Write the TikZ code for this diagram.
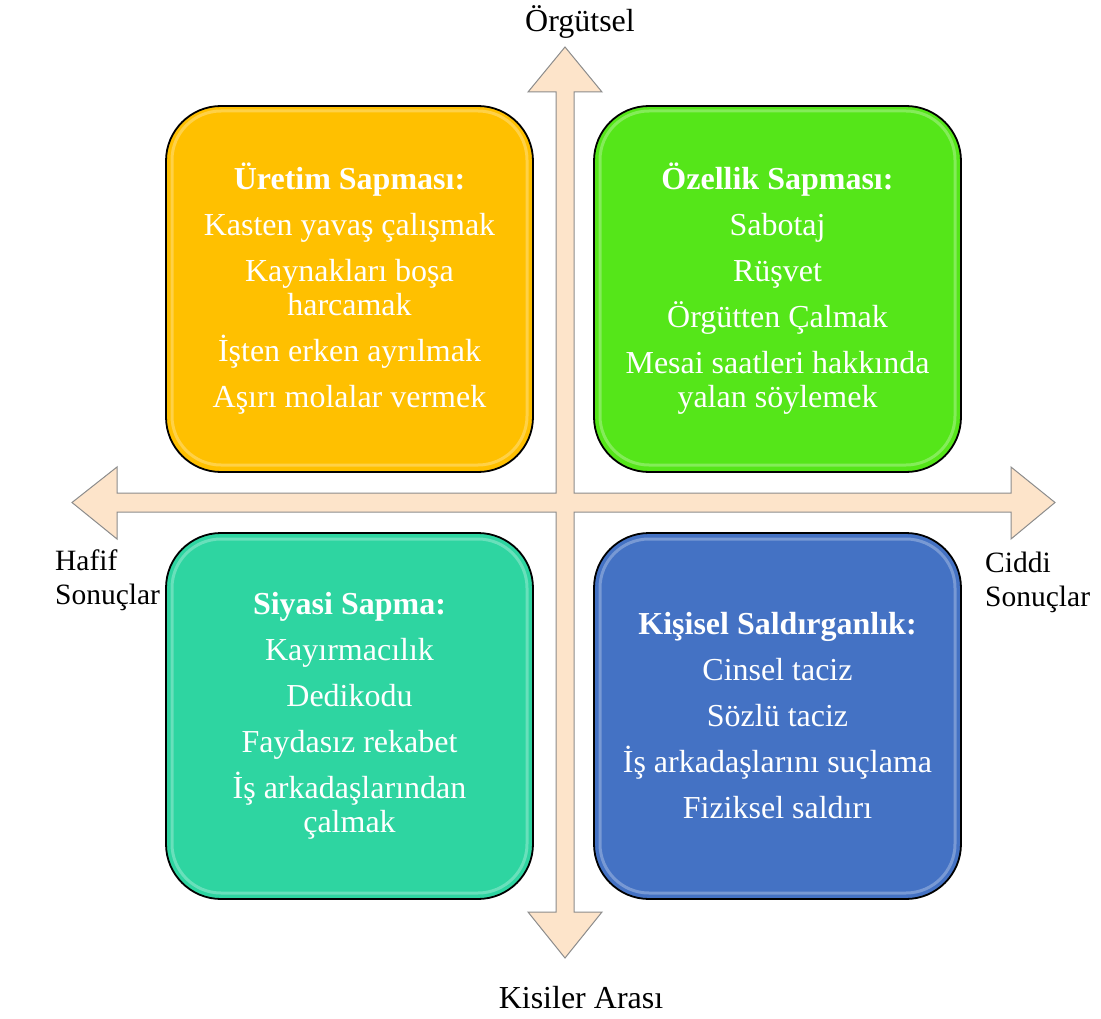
\documentclass[tikz,border=0pt]{standalone}
\usepackage{fontspec}
\setmainfont{Liberation Serif}
\definecolor{cyellow}{HTML}{FFC000}
\definecolor{cgreen}{HTML}{55E619}
\definecolor{cteal}{HTML}{2ED5A1}
\definecolor{cblue}{HTML}{4472C4}
\definecolor{peach}{HTML}{FDE4CA}
\definecolor{axisgray}{HTML}{8C8C8C}
\begin{document}
\begin{tikzpicture}[x=1pt,y=-1pt,
  quad/.style={draw=black, line width=1.8pt, rounded corners=55pt,
    minimum width=367pt, minimum height=366pt, inner sep=0pt,
    text=white, align=center, font=\fontsize{32}{34}\selectfont},
  gloss/.style={draw=white, opacity=0.28, line width=3pt, rounded corners=49pt},
  axisshape/.style={fill=peach, draw=axisgray, line width=1pt, line join=miter},
  lbl/.style={inner sep=0pt, font=\fontsize{32}{34}\selectfont},
  sidelbl/.style={inner sep=0pt, font=\fontsize{29.5}{34}\selectfont}]
\useasboundingbox (0,0) rectangle (1101,1019);
% axes (union of two double arrows)
\draw[axisshape] (565,47) -- (602,92) -- (574,92) -- (574,493) -- (1011,493) -- (1011,467)
  -- (1055,502.5) -- (1011,539) -- (1011,512) -- (574,512) -- (574,912) -- (602,912)
  -- (565,958) -- (528,912) -- (556,912) -- (556,512) -- (117,512) -- (117,539)
  -- (72,502.5) -- (117,467) -- (117,493) -- (556,493) -- (556,92) -- (528,92) -- cycle;
% quadrants
\node[quad, fill=cyellow] (uretim) at (349.5,289)
  {\textbf{Üretim Sapması:}\\[12pt] Kasten yavaş çalışmak\\[12pt] Kaynakları boşa\\ harcamak\\[12pt] İşten erken ayrılmak\\[12pt] Aşırı molalar vermek};
\node[quad, fill=cgreen] (ozellik) at (777.5,289)
  {\textbf{Özellik Sapması:}\\[12pt] Sabotaj\\[12pt] Rüşvet\\[12pt] Örgütten Çalmak\\[12pt] Mesai saatleri hakkında\\ yalan söylemek};
\node[quad, fill=cteal] (siyasi) at (349.5,716)
  {\textbf{Siyasi Sapma:}\\[12pt] Kayırmacılık\\[12pt] Dedikodu\\[12pt] Faydasız rekabet\\[12pt] İş arkadaşlarından\\ çalmak};
\node[quad, fill=cblue] (kisisel) at (777.5,716)
  {\textbf{Kişisel Saldırganlık:}\\[12pt] Cinsel taciz\\[12pt] Sözlü taciz\\[12pt] İş arkadaşlarını suçlama\\[12pt] Fiziksel saldırı};
% gloss highlights
\draw[gloss] (172,111) rectangle (527,465);
\draw[gloss] (600,111) rectangle (955,465);
\draw[gloss] (172,539) rectangle (527,893);
\draw[gloss] (600,539) rectangle (955,893);
% axis labels
\node[lbl, anchor=base] (orgutsel) at (580,32) {Örgütsel};
\node[lbl, anchor=base] (kisiler) at (581,1008) {Kisiler Arası};
\node[sidelbl, anchor=base west] (hafif) at (55,570)
  {\vtop{\baselineskip=34pt \hbox{Hafif}\hbox{Sonuçlar}}};
\node[sidelbl, anchor=base west] (ciddi) at (985,572)
  {\vtop{\baselineskip=34pt \hbox{Ciddi}\hbox{Sonuçlar}}};
\end{tikzpicture}
\end{document}
